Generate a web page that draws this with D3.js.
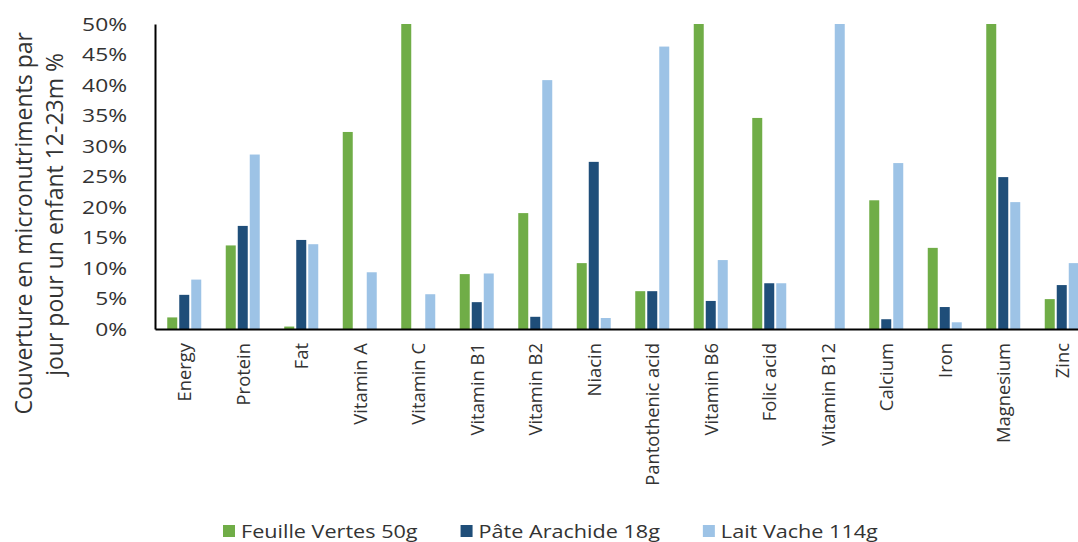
<!DOCTYPE html>
<html>
<head>
<meta charset="utf-8">
<script src="https://cdn.jsdelivr.net/npm/d3@7"></script>
<style>
  html, body { margin: 0; padding: 0; background: #fff; }
  svg { display: block; font-family: "Open Sans", "Noto Sans", sans-serif; }
</style>
</head>
<body>
<svg id="chart" width="1078" height="542"></svg>
<script>
// Nutrient categories on the x axis
const categories = ["Energy", "Protein", "Fat", "Vitamin A", "Vitamin C", "Vitamin B1",
  "Vitamin B2", "Niacin", "Pantothenic acid", "Vitamin B6", "Folic acid", "Vitamin B12",
  "Calcium", "Iron", "Magnesium", "Zinc"];

// Coverage (% of daily needs, child 12-23 months), one array per food
const feuilleVertes = [1.9, 13.7, 0.4, 32.3, 50, 9.0, 19.0, 10.8, 6.2, 50, 34.6, 0, 21.1, 13.3, 50, 4.9];
const pateArachide  = [5.6, 16.9, 14.6, 0, 0, 4.4, 2.0, 27.4, 6.2, 4.6, 7.5, 0, 1.6, 3.6, 24.9, 7.2];
const laitVache     = [8.1, 28.6, 13.9, 9.3, 5.7, 9.1, 40.8, 1.8, 46.3, 11.3, 7.5, 50, 27.2, 1.1, 20.8, 10.8];

const seriesNames = ["Feuille Vertes 50g", "Pâte Arachide 18g", "Lait Vache 114g"];
const seriesColors = ["#70ad47", "#1f4e79", "#9dc3e6"];
const yTicks = [0, 5, 10, 15, 20, 25, 30, 35, 40, 45, 50];

const series = [feuilleVertes, pateArachide, laitVache];
const svg = d3.select("#chart");
const textColor = "#333";
const wide = 1.2; // horizontal widening of the horizontal labels

// Plot frame
const plotLeft = 155, plotTop = 24, plotBottom = 329;
const bandStep = 58.5;

const x = d3.scaleBand()
  .domain(categories)
  .range([plotLeft, plotLeft + bandStep * categories.length])
  .padding(0);

const groupWidth = 34;
const x1 = d3.scaleBand()
  .domain(d3.range(series.length))
  .range([0, groupWidth])
  .paddingInner(0.167)
  .paddingOuter(0);

const y = d3.scaleLinear().domain([0, 50]).range([plotBottom, plotTop]);

// Bars
const groups = svg.append("g").selectAll("g")
  .data(categories)
  .join("g")
  .attr("transform", d => `translate(${x(d) + (x.bandwidth() - groupWidth) / 2},0)`);

groups.selectAll("rect")
  .data((d, i) => series.map((s, k) => ({ k, v: s[i] })))
  .join("rect")
  .attr("x", d => x1(d.k))
  .attr("width", x1.bandwidth())
  .attr("y", d => y(d.v))
  .attr("height", d => plotBottom - y(d.v))
  .attr("fill", d => seriesColors[d.k]);

// Y axis
const tickGap = 28;
const yAxis = svg.append("g")
  .attr("transform", `translate(${plotLeft},0)`)
  .call(d3.axisLeft(y).tickValues(yTicks).tickFormat(d => d + "%").tickSize(0).tickPadding(tickGap));
yAxis.select(".domain").attr("stroke", "#000").attr("stroke-width", 2);
yAxis.selectAll("text")
  .attr("font-size", 19)
  .attr("font-family", "'Open Sans', sans-serif")
  .attr("fill", textColor)
  .attr("x", -tickGap / wide)
  .attr("transform", `scale(${wide},1)`);

// X axis
const xAxis = svg.append("g")
  .attr("transform", `translate(0,${plotBottom})`)
  .call(d3.axisBottom(x).tickSize(0).tickFormat(""));
xAxis.select(".domain").attr("stroke", "#000").attr("stroke-width", 2);

svg.append("g").selectAll("text")
  .data(categories)
  .join("text")
  .attr("transform", d => `translate(${x(d) + x.bandwidth() / 2 + 7},${plotBottom + 14}) rotate(-90)`)
  .attr("text-anchor", "end")
  .attr("font-size", 18.4)
  .attr("fill", textColor)
  .text(d => d);

// Y axis title (two lines)
const titleLines = ["Couverture en micronutriments par", "jour pour un enfant 12-23m %"];
svg.append("g").selectAll("text")
  .data(titleLines)
  .join("text")
  .attr("transform", (d, i) => `translate(${32 + i * 31},${32 + i * 21}) rotate(-90)`)
  .attr("text-anchor", "end")
  .attr("font-size", 23)
  .attr("fill", textColor)
  .text(d => d);

// Legend
const legend = svg.append("g").attr("transform", "translate(223,538)");
let lx = 0;
seriesNames.forEach((name, i) => {
  const item = legend.append("g").attr("transform", `translate(${lx},0)`);
  item.append("rect")
    .attr("x", 0).attr("y", -13)
    .attr("width", 12).attr("height", 12)
    .attr("fill", seriesColors[i]);
  const t = item.append("text")
    .attr("transform", `translate(18,0) scale(${wide},1)`)
    .attr("font-size", 18)
    .attr("fill", textColor)
    .text(name);
  lx += 18 + t.node().getComputedTextLength() * wide + 43;
});
</script>
</body>
</html>
